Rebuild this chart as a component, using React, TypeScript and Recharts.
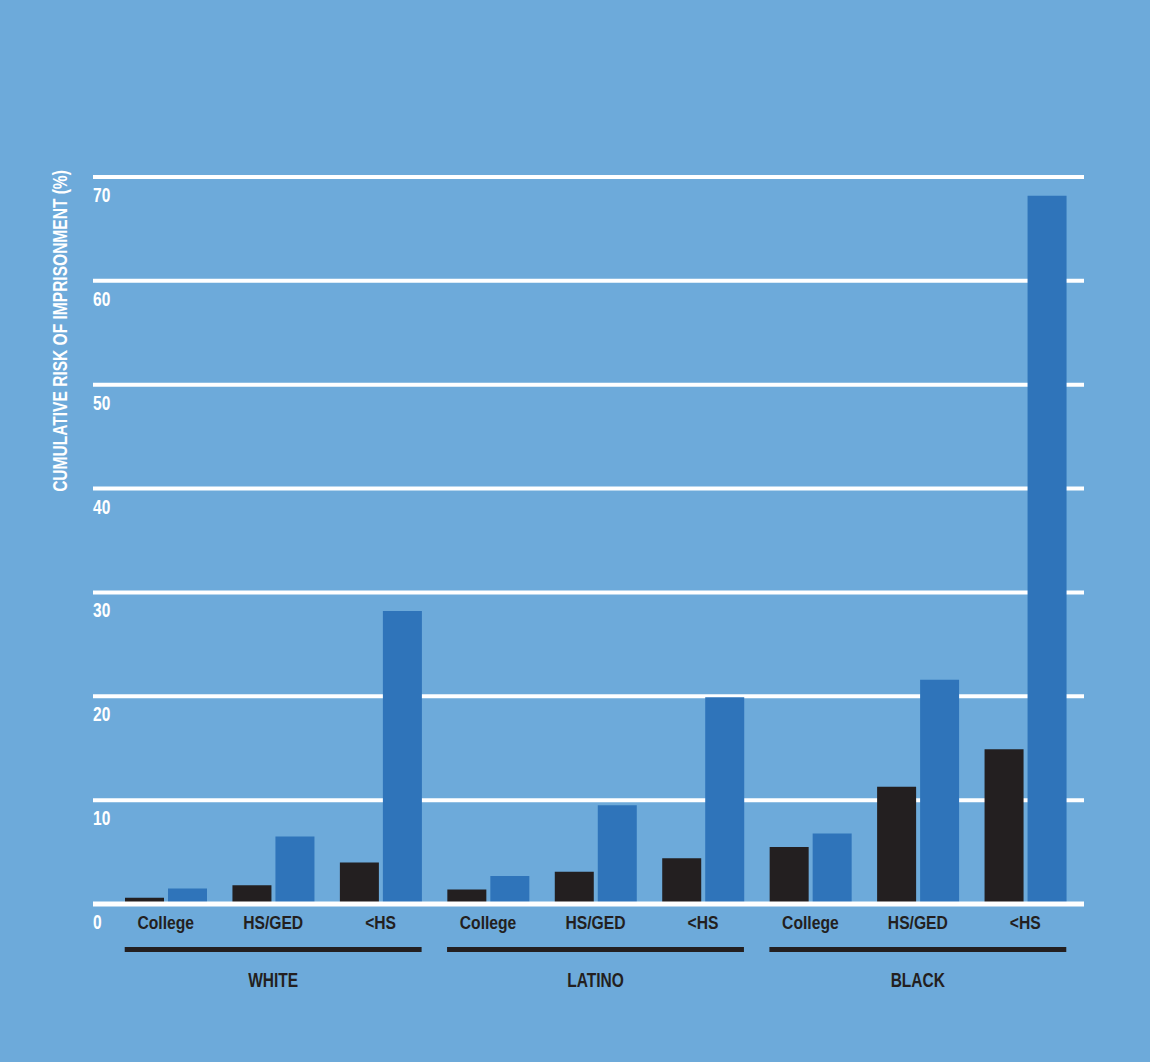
import React from 'react';
import { BarChart, Bar, XAxis, YAxis, CartesianGrid, ReferenceLine } from 'recharts';

const groups = ['WHITE', 'LATINO', 'BLACK'];
const levels = ['College', 'HS/GED', '<HS'];
// black bars (earlier cohort) and blue bars (later cohort), % risk
const earlier = [0.6, 1.8, 4.0, 1.4, 3.1, 4.4, 5.5, 11.3, 14.9];
const later = [1.5, 6.5, 28.2, 2.7, 9.5, 19.9, 6.8, 21.6, 68.2];
const yTicks = [0, 10, 20, 30, 40, 50, 60, 70];

const data = earlier.map((v, i) => ({
  key: `${groups[Math.floor(i / levels.length)]}-${levels[i % levels.length]}`,
  level: levels[i % levels.length],
  group: groups[Math.floor(i / levels.length)],
  earlier: v,
  later: later[i],
}));

const W = 1150;
const H = 1062;
const BG = '#6DAADA';
const BLUE = '#2F74BA';
const DARK = '#231F20';
const FONT = '"Liberation Sans", Arial, sans-serif';

const M = { top: 177, right: 66, left: 0, bottom: 128 };
const Y_AXIS_W = 93;
const X_AXIS_H = 30;
const PAD = { left: 19, right: 5 };
const PLOT_LEFT = M.left + Y_AXIS_W;
const PLOT_BOTTOM = H - M.bottom - X_AXIS_H;
const BAND = (W - M.left - M.right - Y_AXIS_W - PAD.left - PAD.right) / data.length;
const BAR = 39;
const GAP = 4;
const GROUP_HALF = BAND * 1.5 - (BAND - (2 * BAR + GAP)) / 2;

// condensed bold text: squeeze a regular bold face horizontally
const Cond = ({ x, y, size, sx, fill, anchor, children }: any) => (
  <text
    transform={`translate(${x},${y}) scale(${sx},1)`}
    fill={fill}
    fontSize={size}
    fontWeight={700}
    fontFamily={FONT}
    textAnchor={anchor}
  >
    {children}
  </text>
);

const YTick = (props: any) => {
  const { payload } = props;
  return (
    <Cond x={PLOT_LEFT} y={payload.coordinate + 25} size={21} sx={0.74} fill="#fff" anchor="start">
      {payload.value}
    </Cond>
  );
};

const XTick = (props: any) => {
  const { x, payload, index } = props;
  const d = data[index];
  const mid = index % levels.length === 1;
  return (
    <g>
      <Cond x={x} y={PLOT_BOTTOM + 24.5} size={18} sx={0.87} fill={DARK} anchor="middle">
        {d ? d.level : payload.value}
      </Cond>
      {mid && (
        <>
          <line x1={x - GROUP_HALF} x2={x + GROUP_HALF} y1={PLOT_BOTTOM + 45.5} y2={PLOT_BOTTOM + 45.5} stroke={DARK} strokeWidth={5} />
          <Cond x={x} y={PLOT_BOTTOM + 83} size={21} sx={0.74} fill={DARK} anchor="middle">
            {d.group}
          </Cond>
        </>
      )}
    </g>
  );
};

export default function App() {
  return (
    <div style={{ position: 'absolute', left: 0, top: 0, width: W, height: H, background: BG, overflow: 'hidden' }}>
      <div
        style={{
          position: 'absolute',
          left: 60 - 250,
          top: 331 - 12,
          width: 500,
          height: 24,
          lineHeight: '24px',
          textAlign: 'center',
          transform: 'rotate(-90deg) scaleX(0.74)',
          color: '#fff',
          fontFamily: FONT,
          fontWeight: 700,
          fontSize: 21,
          whiteSpace: 'nowrap',
        }}
      >
        CUMULATIVE RISK OF IMPRISONMENT (%)
      </div>
      <BarChart width={W} height={H} data={data} margin={M} barSize={BAR} barGap={GAP}>
        <CartesianGrid horizontal vertical={false} stroke="#fff" strokeWidth={4} strokeDasharray="" />
        <XAxis
          dataKey="key"
          height={X_AXIS_H}
          axisLine={false}
          tickLine={false}
          padding={PAD}
          interval={0}
          tick={<XTick />}
        />
        <YAxis
          width={Y_AXIS_W}
          domain={[0, 70]}
          ticks={yTicks}
          axisLine={false}
          tickLine={false}
          tick={<YTick />}
        />
        <ReferenceLine y={0} stroke="#fff" strokeWidth={5} />
        <Bar dataKey="earlier" fill={DARK} isAnimationActive={false} />
        <Bar dataKey="later" fill={BLUE} isAnimationActive={false} />
      </BarChart>
    </div>
  );
}
